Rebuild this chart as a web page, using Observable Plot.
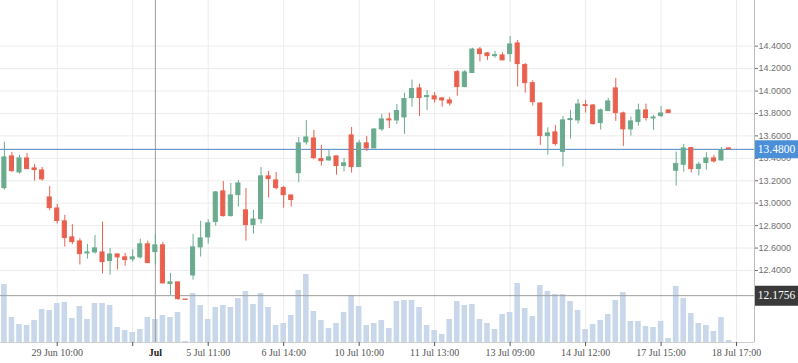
<!DOCTYPE html>
<html>
<head>
<meta charset="utf-8">
<script src="https://cdn.jsdelivr.net/npm/d3@7"></script>
<script src="https://cdn.jsdelivr.net/npm/@observablehq/plot@0.6"></script>
<style>
html, body { margin: 0; padding: 0; background: #fff; }
#chart { width: 798px; height: 363px; overflow: hidden; position: relative; }
</style>
</head>
<body>
<div id="chart"></div>
<script>
// ---- data (one candle per slot) ----
const open = [13.134,13.417,13.274,13.399,13.310,13.292,13.051,12.953,12.838,12.695,
  12.659,12.552,12.561,12.561,12.484,12.543,12.517,12.499,12.517,12.633,
  12.564,12.624,12.279,12.294,12.141,12.356,12.606,12.695,12.832,13.105,
  12.885,13.072,12.936,12.805,12.858,13.239,13.203,13.135,13.069,13.268,
  13.542,13.577,13.393,13.381,13.417,13.331,13.604,13.322,13.533,13.488,
  13.658,13.747,13.738,13.764,13.937,14.023,13.946,13.952,13.934,13.916,
  14.168,14.035,14.160,14.370,14.335,14.311,14.317,14.329,14.424,14.231,
  14.070,13.889,13.598,13.631,13.458,13.741,13.738,13.874,13.871,13.714,
  13.821,14.023,13.800,13.658,13.723,13.827,13.755,13.776,13.827,13.289,
  13.343,13.491,13.304,13.358,13.399,13.381,13.488];
const high = [13.542,13.453,13.426,13.444,13.346,13.319,13.150,12.989,12.891,12.808,
  12.683,12.633,12.713,12.832,12.597,12.546,12.552,12.588,12.680,12.662,
  12.722,12.650,12.374,12.294,12.142,12.722,12.838,12.852,13.105,13.194,
  13.176,13.203,13.132,12.936,13.319,13.283,13.274,13.150,13.069,13.586,
  13.738,13.649,13.515,13.470,13.417,13.399,13.675,13.560,13.595,13.666,
  13.794,13.803,13.880,13.981,14.097,14.062,14.005,13.987,13.943,13.943,
  14.183,14.183,14.382,14.388,14.344,14.353,14.341,14.486,14.451,14.246,
  14.091,13.895,13.672,13.693,13.773,13.827,13.925,13.916,13.880,13.839,
  13.934,14.112,13.812,13.767,13.883,13.883,13.782,13.862,13.827,13.456,
  13.524,13.497,13.363,13.450,13.426,13.497,13.490];
const low = [13.117,13.274,13.259,13.300,13.197,13.197,12.933,12.814,12.609,12.630,
  12.449,12.502,12.546,12.368,12.359,12.404,12.440,12.475,12.502,12.466,
  12.449,12.279,12.178,12.133,12.136,12.315,12.520,12.636,12.796,12.876,
  12.876,12.965,12.662,12.725,12.814,13.046,13.117,12.956,12.965,13.182,
  13.518,13.387,13.331,13.375,13.250,13.277,13.268,13.322,13.461,13.488,
  13.640,13.666,13.702,13.613,13.857,13.773,13.827,13.892,13.857,13.866,
  13.955,14.029,14.160,14.258,14.273,14.293,14.273,14.258,14.035,13.981,
  13.866,13.515,13.429,13.509,13.322,13.571,13.705,13.803,13.696,13.652,
  13.821,13.729,13.506,13.598,13.687,13.732,13.649,13.764,13.803,13.152,
  13.277,13.269,13.242,13.295,13.358,13.375,13.480];
const close = [13.408,13.286,13.399,13.304,13.295,13.212,12.956,12.841,12.689,12.653,
  12.546,12.561,12.597,12.475,12.543,12.517,12.493,12.517,12.633,12.466,
  12.624,12.285,12.294,12.145,12.138,12.606,12.686,12.820,13.096,12.885,
  13.069,13.176,12.805,12.855,13.239,13.215,13.135,13.072,13.028,13.533,
  13.586,13.402,13.375,13.408,13.331,13.355,13.322,13.533,13.488,13.657,
  13.747,13.738,13.821,13.928,14.017,13.937,13.955,13.925,13.916,13.889,
  14.035,14.166,14.370,14.329,14.311,14.320,14.273,14.415,14.240,14.071,
  13.901,13.598,13.622,13.527,13.738,13.750,13.880,13.866,13.705,13.827,
  13.907,13.803,13.658,13.729,13.827,13.759,13.764,13.800,13.803,13.349,
  13.488,13.304,13.343,13.399,13.372,13.470,13.480];
const volume = [58,25,18,17,22,33,32,39,40,24,36,23,39,39,37,15,12,10,13,25,
  23,27,25,30,1,49,37,23,35,37,35,44,51,38,49,35,17,19,27,52,
  68,31,22,14,19,30,47,36,17,19,22,14,41,42,42,35,17,12,8,23,
  41,37,38,23,19,13,28,30,59,34,26,57,51,48,48,41,32,13,18,22,
  28,42,50,21,21,16,15,21,4,56,44,29,19,17,11,25,2];

const tickIndex  = [7, 17, 27, 37, 47, 57, 67, 77, 87, 97];
const tickLabels = ["29 Jun 10:00", "", "5 Jul 11:00", "6 Jul 14:00", "10 Jul 10:00",
                    "11 Jul 13:00", "13 Jul 09:00", "14 Jul 12:00", "17 Jul 15:00", "18 Jul 17:00"];
const priceTicks = [12.4, 12.6, 12.8, 13.0, 13.2, 13.4, 13.6, 13.8, 14.0, 14.2, 14.4];
const lastPrice = [13.48];
const crossPrice = [12.1756];
const crossIndex = [20];
const crossLabel = "Jul";

// ---- build table ----
const candles = open.map((o, i) => ({
  i, open: o, high: high[i], low: low[i], close: close[i], volume: volume[i],
  color: close[i] >= o ? "#6aab8e" : "#e9604e"
}));
const labelOf = new Map(tickIndex.map((t, k) => [t, tickLabels[k]]));

const X_DOMAIN = [-0.517, 99.377];
const Y_DOMAIN = [11.758, 14.807];
// volume pane = bottom 20% of the price frame
const volY = d3.scaleLinear([0, 68.4], [Y_DOMAIN[0], Y_DOMAIN[0] + 0.2 * (Y_DOMAIN[1] - Y_DOMAIN[0])]);

const fmt4 = d3.format(".4f");

const chart = Plot.plot({
  width: 798,
  height: 363,
  marginLeft: 0,
  marginRight: 44,
  marginTop: 0,
  marginBottom: 21,
  style: { fontFamily: "Liberation Sans", background: "transparent" },
  x: { type: "linear", domain: X_DOMAIN, label: null },
  y: { type: "linear", domain: Y_DOMAIN, label: null },
  color: { type: "identity" },
  marks: [
    // grid
    Plot.ruleY(priceTicks, { stroke: "#ececec" }),
    Plot.ruleX(tickIndex, { stroke: "#ececec" }),
    // volume
    Plot.rect(candles, {
      x1: d => d.i - 0.37, x2: d => d.i + 0.37,
      y1: () => volY(0), y2: d => volY(d.volume),
      fill: "#c9d7ea"
    }),
    // axis lines
    Plot.ruleX([X_DOMAIN[1]], { stroke: "#bdbdbd" }),
    Plot.ruleY([Y_DOMAIN[0]], { stroke: "#cfcfcf" }),
    // crosshair
    Plot.ruleX(crossIndex, { stroke: "#9d9d9d" }),
    Plot.ruleY(crossPrice, { stroke: "#9d9d9d" }),
    // last price line
    Plot.ruleY(lastPrice, { stroke: "#4a86c6" }),
    // candles
    Plot.ruleX(candles, { x: "i", y1: "low", y2: "high", stroke: "color" }),
    Plot.rect(candles, {
      x1: d => d.i - 0.27, x2: d => d.i + 0.27,
      y1: "open", y2: "close", fill: "color", stroke: "color", strokeWidth: 1
    }),
    // axes
    Plot.axisY({
      anchor: "right", ticks: priceTicks, tickFormat: fmt4, label: null,
      tickSize: 3, tickPadding: 1, fontSize: 9, color: "#707070",
      fontFamily: "Liberation Sans"
    }),
    Plot.axisX({
      ticks: tickIndex, tickFormat: t => labelOf.get(t), label: null,
      tickSize: 4, tickPadding: 2, fontSize: 10, color: "#555",
      fontFamily: "Liberation Serif"
    }),
    // crosshair x label
    Plot.text(crossIndex, {
      x: d => d, frameAnchor: "bottom", dy: 6, lineAnchor: "top",
      text: () => crossLabel, fontWeight: "bold", fill: "#1a1a1a",
      fontFamily: "Liberation Serif", fontSize: 10
    }),
    // price label boxes
    Plot.ruleY(lastPrice, { dx: 755, strokeWidth: 18, stroke: "#4a8fd8" }),
    Plot.text(lastPrice, {
      y: d => d, frameAnchor: "right", dx: 22, textAnchor: "middle",
      text: fmt4, fill: "white", fontFamily: "Liberation Serif", fontSize: 11.5
    }),
    Plot.ruleY(crossPrice, { dx: 755, strokeWidth: 20, stroke: "#3a3a3a" }),
    Plot.text(crossPrice, {
      y: d => d, frameAnchor: "right", dx: 22, textAnchor: "middle",
      text: fmt4, fill: "white", fontFamily: "Liberation Serif", fontSize: 11.5
    })
  ]
});

document.getElementById("chart").appendChild(chart);
</script>
</body>
</html>
